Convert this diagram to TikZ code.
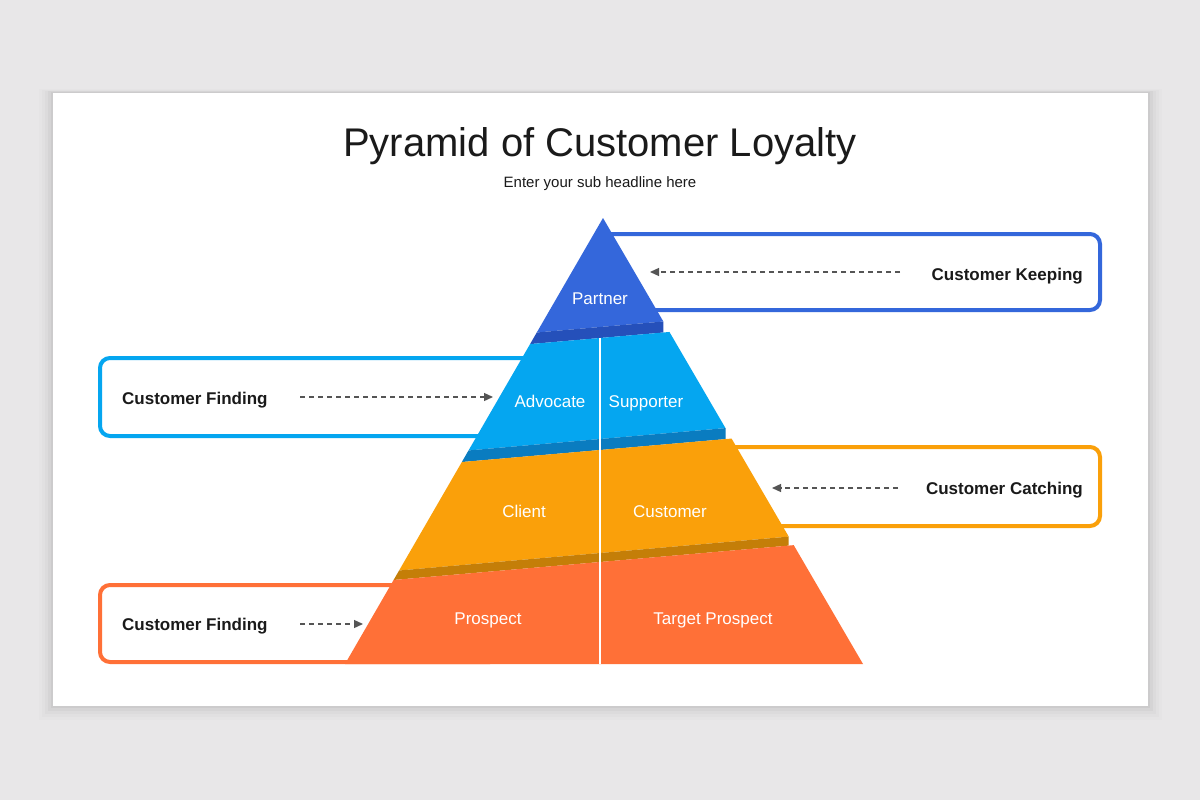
\documentclass[tikz,border=0pt]{standalone}
\usepackage{fontspec}
\setmainfont{Liberation Sans}
\usetikzlibrary{arrows.meta}
\definecolor{bgc}{HTML}{E8E7E8}
\definecolor{blueA}{HTML}{3467DB}
\definecolor{blueAd}{HTML}{2550BA}
\definecolor{blueB}{HTML}{05A6F0}
\definecolor{blueBd}{HTML}{0A7CC0}
\definecolor{orA}{HTML}{FAA00A}
\definecolor{orAd}{HTML}{C47E08}
\definecolor{redA}{HTML}{FF7037}
\definecolor{txt}{HTML}{1A1A1A}
\definecolor{arr}{HTML}{555555}
\tikzset{
  sidebox/.style={line width=4pt, rounded corners=10pt},
  sidelabel/.style={font=\fontsize{17}{20}\selectfont\bfseries, text=txt, inner sep=0pt},
  tierlabel/.style={font=\fontsize{17}{20}\selectfont, text=white, inner sep=0pt, anchor=base},
  dasharrow/.style={draw=arr, line width=1.3pt, dash pattern=on 5pt off 4pt, -{Triangle[length=9pt,width=8pt]}},
}
\begin{document}
\begin{tikzpicture}[x=1pt,y=-1pt]
\useasboundingbox (0,0) rectangle (1200,800);
\fill[bgc] (0,0) rectangle (1200,800);
% card shadow
\foreach \d/\o in {14/0.012,11/0.015,8/0.02,5/0.03,2/0.04}{
  \fill[black,opacity=\o] (53-\d,93-\d*0.3) rectangle (1148+\d,706+\d);
}
\fill[white] (53,93) rectangle (1148,706);
% title
\node[font=\fontsize{40}{48}\selectfont, text=txt, anchor=base, inner sep=0pt] (title) at (600,156.5) {Pyramid of Customer Loyalty};
\node[font=\fontsize{15}{18}\selectfont, text=txt, anchor=base, inner sep=0pt] (sub) at (600,187.5) {Enter your sub headline here};
% side boxes
\draw[sidebox, draw=blueA] (600,234) rectangle (1100,310);
\draw[sidebox, draw=blueB] (100,358) rectangle (600,436);
\draw[sidebox, draw=orA] (700,447) rectangle (1100,526);
\draw[sidebox, draw=redA] (100,585) rectangle (500,662);
% pyramid
\begin{scope}
\clip (603,218) -- (863,664) -- (345,664) -- cycle;
\fill[blueA] (300,200) -- (900,200) -- (900,300.9) -- (300,353.1) -- cycle;
\fill[blueAd] (300,353.1) -- (663.3,321.5) -- (663.3,332.5) -- (300,364.1) -- cycle;
\fill[blueB] (300,364.1) -- (900,311.9) -- (900,412.9) -- (300,465.1) -- cycle;
\fill[blueBd] (300,465.1) -- (725.5,428.1) -- (725.5,439.1) -- (300,476.1) -- cycle;
\fill[orA] (300,476.1) -- (900,423.9) -- (900,526.9) -- (300,579.1) -- cycle;
\fill[orAd] (300,579.1) -- (788.7,536.6) -- (788.7,545.6) -- (300,588.1) -- cycle;
\fill[redA] (300,588.1) -- (900,535.9) -- (900,700) -- (300,700) -- cycle;
\end{scope}
\draw[white, line width=1.5pt] (600,338) -- (600,664);
% tier labels
\node[tierlabel] (partner) at (600,304) {Partner};
\node[tierlabel] (advocate) at (550,407) {Advocate};
\node[tierlabel] (supporter) at (646,407) {Supporter};
\node[tierlabel] (client) at (524,517) {Client};
\node[tierlabel] (customer) at (670,517) {Customer};
\node[tierlabel] (prospect) at (488,624) {Prospect};
\node[tierlabel] (target) at (713,624) {Target Prospect};
% side labels
\node[sidelabel, anchor=base east] (keeping) at (1083,280) {Customer Keeping};
\node[sidelabel, anchor=base west] (finding1) at (122,404) {Customer Finding};
\node[sidelabel, anchor=base east] (catching) at (1083,494) {Customer Catching};
\node[sidelabel, anchor=base west] (finding2) at (122,630.5) {Customer Finding};
% arrows
\coordinate (k1) at (900,272); \coordinate (k2) at (650,272);
\coordinate (f1a) at (300,397); \coordinate (f1b) at (493,397);
\coordinate (c1) at (898,488); \coordinate (c2) at (772,488);
\coordinate (f2a) at (300,624); \coordinate (f2b) at (363,624);
\draw[dasharrow] (k1) -- (k2);
\draw[dasharrow] (f1a) -- (f1b);
\draw[dasharrow] (c1) -- (c2);
\draw[dasharrow] (f2a) -- (f2b);
\end{tikzpicture}
\end{document}
